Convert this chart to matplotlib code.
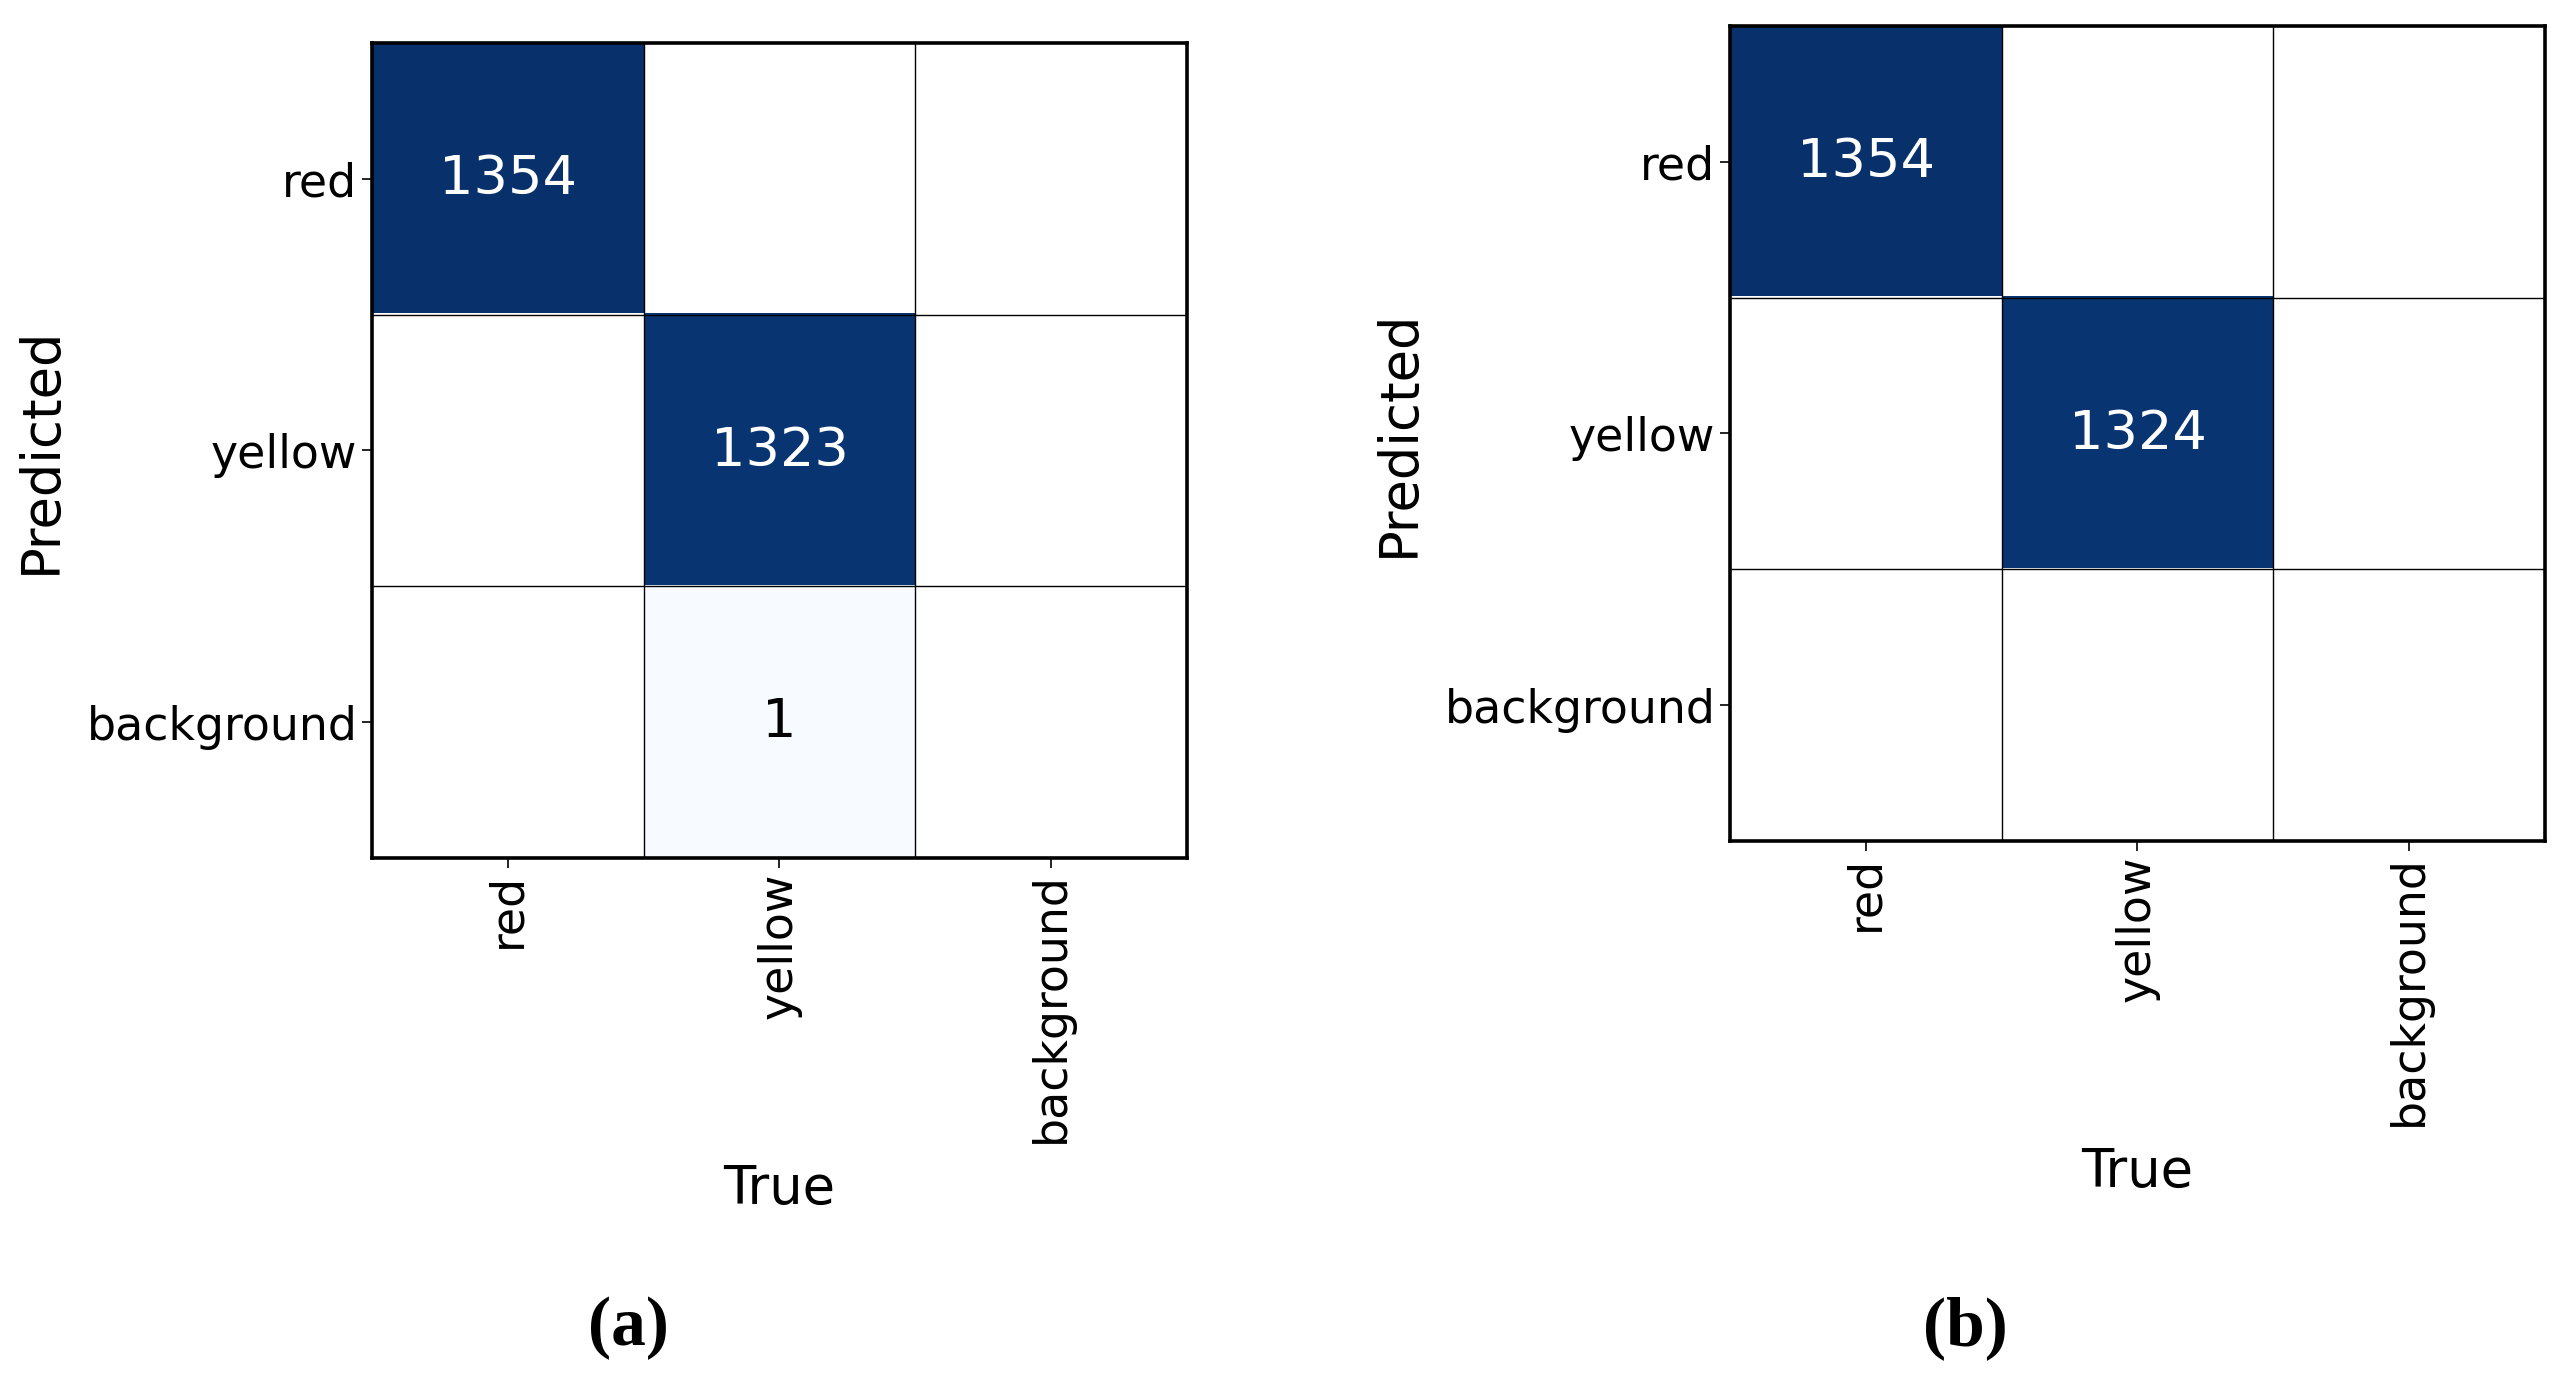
import numpy as np
import matplotlib.pyplot as plt

classes = ['red', 'yellow', 'background']

# rows = predicted, cols = true
cm_a = np.array([[1354, 0, 0],
                 [0, 1323, 0],
                 [0, 1, 0]])
cm_b = np.array([[1354, 0, 0],
                 [0, 1324, 0],
                 [0, 0, 0]])

panel_labels = ['(a)', '(b)']

cmap = plt.get_cmap('Blues').copy()
cmap.set_bad('white')


def draw_cm(ax, cm):
    masked = np.ma.masked_equal(cm, 0)
    ax.imshow(masked, cmap=cmap, vmin=0, vmax=cm.max(), aspect='auto',
              interpolation='nearest')
    for k in [0.5, 1.5]:
        ax.axhline(k, color='black', lw=1.0)
        ax.axvline(k, color='black', lw=1.0)
    for i in range(cm.shape[0]):
        for j in range(cm.shape[1]):
            if cm[i, j] > 0:
                col = 'white' if cm[i, j] > cm.max() / 2 else 'black'
                ax.text(j, i, str(cm[i, j]), ha='center', va='center',
                        fontsize=39, color=col)
    ax.set_xticks(range(len(classes)))
    ax.set_yticks(range(len(classes)))
    ax.set_xticklabels(classes, rotation=90, fontsize=33)
    ax.set_yticklabels(classes, fontsize=33)
    ax.tick_params(length=7, width=1.2)
    ax.set_xlabel('True', fontsize=38, labelpad=14)
    ax.set_ylabel('Predicted', fontsize=38, labelpad=14)
    for s in ax.spines.values():
        s.set_linewidth(2.6)
        s.set_color('black')


fig = plt.figure(figsize=(25.72, 13.81), dpi=100)
ax1 = fig.add_axes([0.1446, 0.3787, 0.3169, 0.5902])
ax2 = fig.add_axes([0.6726, 0.3910, 0.3169, 0.5902])

draw_cm(ax1, cm_a)
draw_cm(ax2, cm_b)

fig.text(628 / 2572, 1 - 1328 / 1381, panel_labels[0], ha='center', va='center',
         fontsize=50, fontweight='bold', family='Liberation Serif')
fig.text(1965 / 2572, 1 - 1328 / 1381, panel_labels[1], ha='center', va='center',
         fontsize=50, fontweight='bold', family='Liberation Serif')

fig.savefig('out.png', dpi=100)
